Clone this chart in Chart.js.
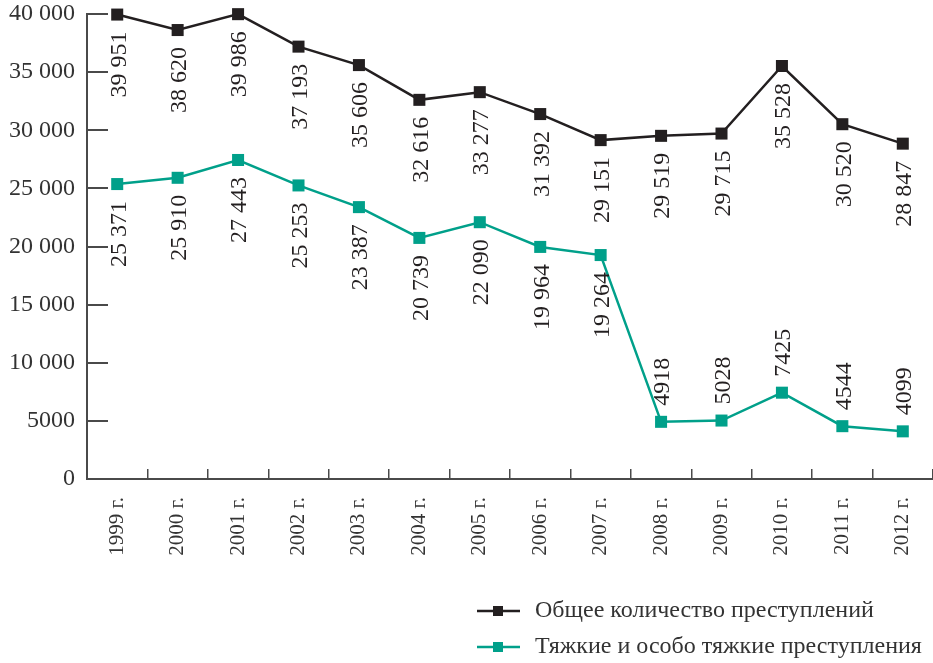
<!DOCTYPE html>
<html>
<head>
<meta charset="utf-8">
<script src="https://cdn.jsdelivr.net/npm/chart.js@4/dist/chart.umd.min.js"></script>
<style>
  html, body { margin: 0; padding: 0; background: #fff; }
  canvas { display: block; }
</style>
</head>
<body>
<canvas id="c" width="933" height="663"></canvas>
<script>
const categories = ['1999 г.', '2000 г.', '2001 г.', '2002 г.', '2003 г.', '2004 г.', '2005 г.', '2006 г.', '2007 г.', '2008 г.', '2009 г.', '2010 г.', '2011 г.', '2012 г.'];
const totalCrimes = [39951, 38620, 39986, 37193, 35606, 32616, 33277, 31392, 29151, 29519, 29715, 35528, 30520, 28847];
const graveCrimes = [25371, 25910, 27443, 25253, 23387, 20739, 22090, 19964, 19264, 4918, 5028, 7425, 4544, 4099];
const seriesNames = ['Общее количество преступлений', 'Тяжкие и особо тяжкие преступления'];
const yTicks = [0, 5000, 10000, 15000, 20000, 25000, 30000, 35000, 40000];

const BLACK = '#231f20';
const TEAL = '#00a08a';
const AXIS = '#4a4a4a';
const FONT = '"Liberation Serif", "DejaVu Serif", serif';

function fmt(v) {
  const s = String(v);
  if (s.length <= 4) return s;
  return s.replace(/\B(?=(\d{3})+(?!\d))/g, ' ');
}

const dataLabels = {
  id: 'dataLabels',
  afterDatasetsDraw(chart) {
    const ctx = chart.ctx;
    ctx.save();
    ctx.font = '24px ' + FONT;
    ctx.fillStyle = BLACK;
    ctx.textBaseline = 'middle';
    chart.data.datasets.forEach((ds, di) => {
      const meta = chart.getDatasetMeta(di);
      meta.data.forEach((pt, i) => {
        const v = ds.data[i];
        const above = v < 10000;
        ctx.save();
        ctx.translate(pt.x + 2, above ? pt.y - 16 : pt.y + 17);
        ctx.rotate(-Math.PI / 2);
        ctx.textAlign = above ? 'left' : 'right';
        ctx.fillText(fmt(v), 0, 0);
        ctx.restore();
      });
    });
    ctx.restore();
  }
};

const customLegend = {
  id: 'customLegend',
  afterDraw(chart) {
    const ctx = chart.ctx;
    ctx.save();
    ctx.font = '24px ' + FONT;
    ctx.textBaseline = 'middle';
    ctx.textAlign = 'left';
    const rows = [611, 647];
    chart.data.datasets.forEach((ds, i) => {
      const y = rows[i];
      ctx.strokeStyle = ds.borderColor;
      ctx.lineWidth = 2.5;
      ctx.beginPath();
      ctx.moveTo(477, y);
      ctx.lineTo(520, y);
      ctx.stroke();
      ctx.fillStyle = ds.borderColor;
      ctx.fillRect(493, y - 5, 10, 10);
      ctx.fillStyle = '#333';
      ctx.fillText(ds.label, 535, y);
    });
    ctx.restore();
  }
};

new Chart(document.getElementById('c'), {
  type: 'line',
  data: {
    labels: categories,
    datasets: [
      {
        label: seriesNames[0],
        data: totalCrimes,
        borderColor: BLACK,
        backgroundColor: BLACK,
        borderWidth: 2.5,
        pointStyle: 'rect',
        pointRadius: 8.5,
        pointBorderWidth: 0,
        tension: 0,
        clip: false
      },
      {
        label: seriesNames[1],
        data: graveCrimes,
        borderColor: TEAL,
        backgroundColor: TEAL,
        borderWidth: 2.5,
        pointStyle: 'rect',
        pointRadius: 8.5,
        pointBorderWidth: 0,
        tension: 0,
        clip: false
      }
    ]
  },
  options: {
    responsive: false,
    animation: false,
    layout: { autoPadding: false, padding: { top: 14, bottom: 73, left: 0, right: 0 } },
    plugins: {
      legend: { display: false },
      tooltip: { enabled: false }
    },
    scales: {
      x: {
        offset: true,
        grid: {
          offset: true,
          drawOnChartArea: false,
          tickLength: -10,
          color: AXIS,
          lineWidth: 1.5
        },
        border: { color: AXIS, width: 2 },
        ticks: {
          minRotation: 90,
          maxRotation: 90,
          padding: 28,
          color: '#333',
          font: { family: FONT, size: 21 }
        },
        afterFit(s) {
          s.height = 590 - 479;
          s.paddingLeft = 0;
          s.paddingRight = 0;
        }
      },
      y: {
        min: 0,
        max: 40000,
        afterBuildTicks(s) { s.ticks = yTicks.map(v => ({ value: v })); },
        grid: {
          drawOnChartArea: false,
          tickLength: -21,
          color: AXIS,
          lineWidth: 2
        },
        border: { color: AXIS, width: 2 },
        ticks: {
          padding: 33,
          color: '#333',
          font: { family: FONT, size: 24 },
          callback: v => fmt(v)
        },
        afterFit(s) {
          s.width = 87;
          s.paddingTop = 0;
          s.paddingBottom = 0;
        }
      }
    }
  },
  plugins: [dataLabels, customLegend]
});
</script>
</body>
</html>
